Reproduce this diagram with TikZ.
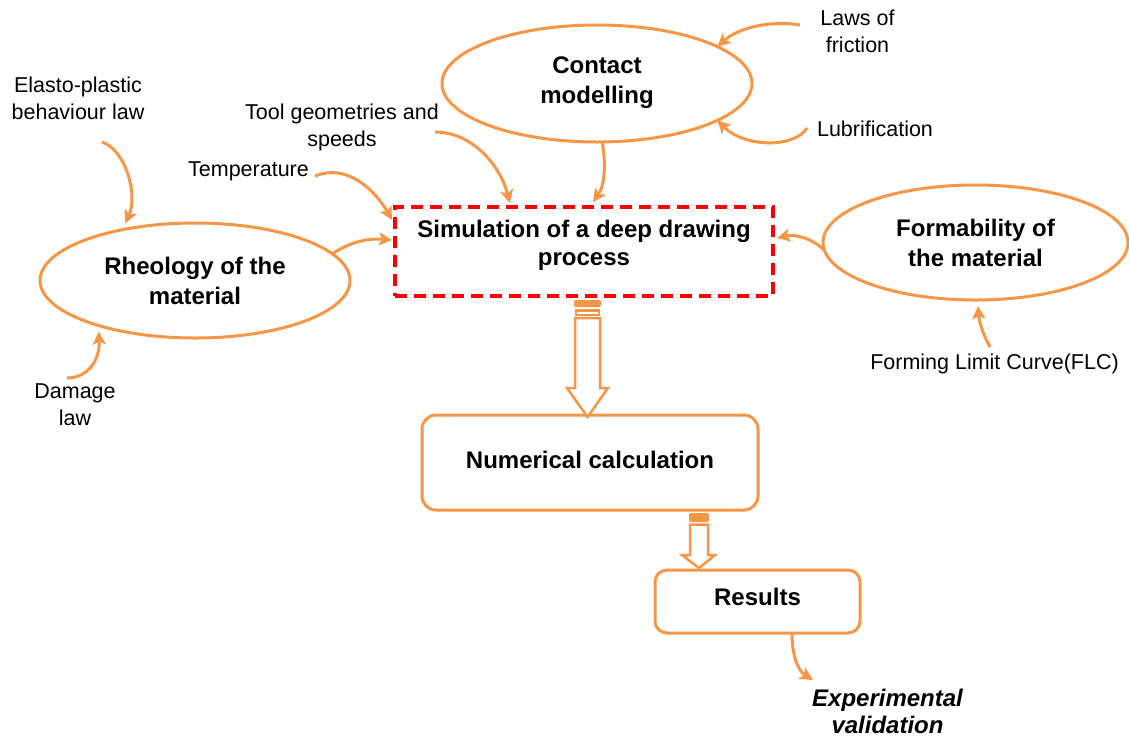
\documentclass[tikz,border=0pt]{standalone}
\usepackage{fontspec}
\setmainfont{Liberation Sans}
\usetikzlibrary{shapes.geometric,arrows.meta,calc}
\definecolor{orng}{RGB}{247,150,70}
\definecolor{dred}{RGB}{255,0,0}
\tikzset{
  lbl/.style={inner sep=0pt, align=center, font=\fontsize{21.5}{27}\selectfont},
  boldlbl/.style={inner sep=0pt, align=center, font=\fontsize{24}{28}\selectfont\bfseries},
  ell/.style={ellipse, draw=orng, line width=3pt, fill=white, inner sep=0pt, outer sep=0pt,
              align=center, font=\fontsize{24}{30}\selectfont\bfseries},
  rbox/.style={draw=orng, line width=3pt, rounded corners=14pt, fill=white, inner sep=0pt, outer sep=0pt,
               align=center, font=\fontsize{24}{28}\selectfont\bfseries},
  dashbox/.style={draw=dred, line width=3.5pt, dash pattern=on 12pt off 7pt, inner sep=0pt, outer sep=0pt},
  conn/.style={draw=orng, line width=3pt, -{Stealth[length=13pt,width=13pt,inset=3pt]}},
  blockarr/.style={draw=orng, line width=2.5pt, fill=white, line join=miter},
}
\begin{document}
\begin{tikzpicture}[x=1pt,y=-1pt]
\fill[white] (0,0) rectangle (1129,737);
\useasboundingbox (0,0) rectangle (1129,737);

% main nodes
\node[ell, minimum width=310pt, minimum height=117pt, text depth=6pt] (contact) at (597,83.5) {Contact\\modelling};
\node[ell, minimum width=310pt, minimum height=115pt] (rheo) at (195,280.5) {Rheology of the\\material};
\node[ell, minimum width=305pt, minimum height=115pt] (form) at (975.5,242.5) {Formability of\\the material};
\node[dashbox, minimum width=378pt, minimum height=89pt] (sim) at (584,251.5) {};
\node[boldlbl] (simtext) at (584,245.5) {Simulation of a deep drawing\\process};
\node[rbox, minimum width=336pt, minimum height=95pt, text depth=6pt] (num) at (590,462.5) {Numerical calculation};
\node[rbox, rounded corners=12pt, minimum width=205pt, minimum height=63pt, text depth=9pt] (res) at (757.5,601.5) {Results};

% labels
\node[lbl] (elasto) at (78,98.5) {Elasto-plastic\\behaviour law};
\node[lbl] (damage) at (75,405) {Damage\\law};
\node[lbl] (tool) at (342,127) {Tool geometries and\\speeds};
\node[lbl] (temp) at (248.5,171) {Temperature};
\node[lbl] (laws) at (857.5,31.5) {Laws of\\friction};
\node[lbl] (lub) at (875,129) {Lubrification};
\node[lbl] (flc) at (994.5,364) {Forming Limit Curve(FLC)};
\node[inner sep=0pt, align=center, font=\fontsize{24}{27}\selectfont\bfseries\itshape] (exp) at (887.5,711.5) {Experimental\\validation};

% free ends
\coordinate (elastoS) at (102,142);
\coordinate (damageS) at (67,378);
\coordinate (tempS) at (315,176);
\coordinate (toolS) at (435,132);
\coordinate (lawsS) at (800,25);
\coordinate (lubS) at (807,128);
\coordinate (flcS) at (990,347);
\coordinate (expE) at (813,680);

% curved connectors
\draw[conn, shorten >=7pt] (elastoS) .. controls (126,150) and (138,195) .. (rheo.145);
\draw[conn, shorten >=6pt] (damageS) .. controls (88,378) and (100,360) .. (rheo.205);
\draw[conn] (tempS) .. controls (350,162) and (378,195) .. ([xshift=-3pt,yshift=-13pt]sim.north west);
\draw[conn] (rheo.11) .. controls (350,242) and (368,238) .. ([xshift=-3pt,yshift=11.5pt]sim.west);
\draw[conn] (toolS) .. controls (472,132) and (500,165) .. ([xshift=-74pt,yshift=4pt]sim.north);
\draw[conn] (contact.-85) .. controls (606,162) and (605,185) .. ([xshift=9pt,yshift=5pt]sim.north);
\draw[conn] (lawsS) .. controls (770,20) and (738,28) .. (contact.17);
\draw[conn] (lubS) .. controls (795,148) and (745,148) .. (contact.-17);
\draw[conn] (form.183) .. controls (812,238) and (795,234) .. ([xshift=4pt,yshift=13.5pt]sim.east);
\draw[conn, shorten >=6pt] (flcS) .. controls (982,333) and (979,320) .. (form.-88);
\draw[conn] ([xshift=34.5pt]res.south) .. controls (792,660) and (800,672) .. (expE);

% block arrow sim -> num
\fill[orng, rounded corners=2pt] (574,300) rectangle (601,307);
\draw[orng, line width=2.5pt, fill=white] (576,310.5) rectangle (599,315);
\draw[blockarr] (575,318) -- (600,318) -- (600,388) -- (608,388) -- (587.5,417) -- (567,388) -- (575,388) -- cycle;

% block arrow num -> results
\fill[orng, rounded corners=1.5pt] (689,513) rectangle (709,522);
\draw[blockarr] (690,524.5) -- (708,524.5) -- (708,555) -- (715,555) -- (699,568) -- (682,555) -- (690,555) -- cycle;
\end{tikzpicture}
\end{document}
